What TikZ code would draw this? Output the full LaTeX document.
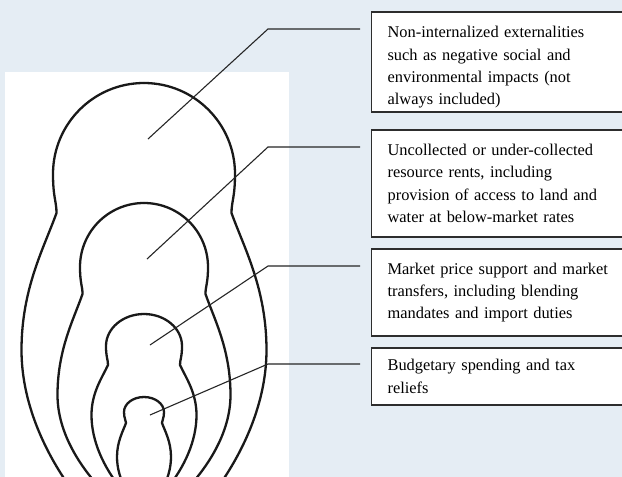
\documentclass[tikz,border=0pt]{standalone}
\usepackage{fontspec}
\setmainfont{Liberation Serif}
\definecolor{bgblue}{RGB}{229,237,244}
\definecolor{boxline}{RGB}{45,45,45}
\newcommand\dollhalf[9]{%
  \draw[dollline] (0,#1)
    .. controls ({0.5523*#2},#1) and (#2,{#3-0.5523*(#3-#1)}) .. (#2,#3)
    .. controls (#2,{#3+0.6*(#4-#3)}) and (#5,{#4-0.3*(#4-#3)}) .. (#5,#4)
    .. controls ({#5+0.35*(#7-#5)},{#4+0.25*(#6-#4)}) and (#7,{#6-0.45*(#6-#4)}) .. (#7,#6)
    .. controls (#7,{#6+0.35*(#8-#6)}) and ({#9+0.6*(#7-#9)},{#8-0.3*(#8-#6)}) .. (#9,#8);}
\begin{document}
\begin{tikzpicture}[x=1pt,y=-1pt,
  dollline/.style={line width=2.3pt,line cap=round,line join=round,black!90},
  leader/.style={line width=1.1pt,black!85},
  infobox/.style={draw=boxline,line width=1.2pt,fill=white,anchor=west,
    text width=250pt,inner xsep=16pt,inner ysep=0pt,align=left,
    font=\fontsize{16.4pt}{22.4pt}\selectfont}]
\useasboundingbox (0,0) rectangle (622,477);
\clip (0,0) rectangle (622,477);
\fill[bgblue] (0,0) rectangle (622,477);
\fill[white] (5,72) rectangle (289,477);
% nested shapes
\foreach \s in {1,-1}{
  \begin{scope}[shift={(144,0)},xscale=\s]
    \dollhalf{83}{91}{174}{213}{87.5}{350}{122.5}{490}{72}
    \dollhalf{203}{64}{267}{294}{61.5}{395}{86.5}{490}{42}
    \dollhalf{314}{38}{346}{365}{36}{415}{52.5}{490}{22}
    \dollhalf{397}{20}{412}{423}{18}{457}{27}{490}{18}
  \end{scope}
}
% boxes
\node[infobox,minimum height=100pt] (b1) at (371,62)
  {\rule{0pt}{22pt}Non-internalized externalities\\such as negative social and\\environmental impacts (not\\always included)};
\node[infobox,minimum height=107pt] (b2) at (371,183.5)
  {Uncollected or under-collected\\resource rents, including\\provision of access to land and\\water at below-market rates};
\node[infobox,minimum height=87pt] (b3) at (371,292.5)
  {Market price support and market\\transfers, including blending\\mandates and import duties};
\node[infobox,minimum height=57pt] (b4) at (371,376.5)
  {Budgetary spending and tax\\reliefs};
% leader lines
\coordinate (d1) at (148,139); \coordinate (k1) at (268,29);  \coordinate (h1) at (360,29);
\coordinate (d2) at (147,259); \coordinate (k2) at (268,147); \coordinate (h2) at (360,147);
\coordinate (d3) at (150,345); \coordinate (k3) at (268,266); \coordinate (h3) at (360,266);
\coordinate (d4) at (150,415); \coordinate (k4) at (268,364); \coordinate (h4) at (360,364);
\draw[leader] (d1) -- (k1) -- (h1);
\draw[leader] (d2) -- (k2) -- (h2);
\draw[leader] (d3) -- (k3) -- (h3);
\draw[leader] (d4) -- (k4) -- (h4);
\end{tikzpicture}
\end{document}
